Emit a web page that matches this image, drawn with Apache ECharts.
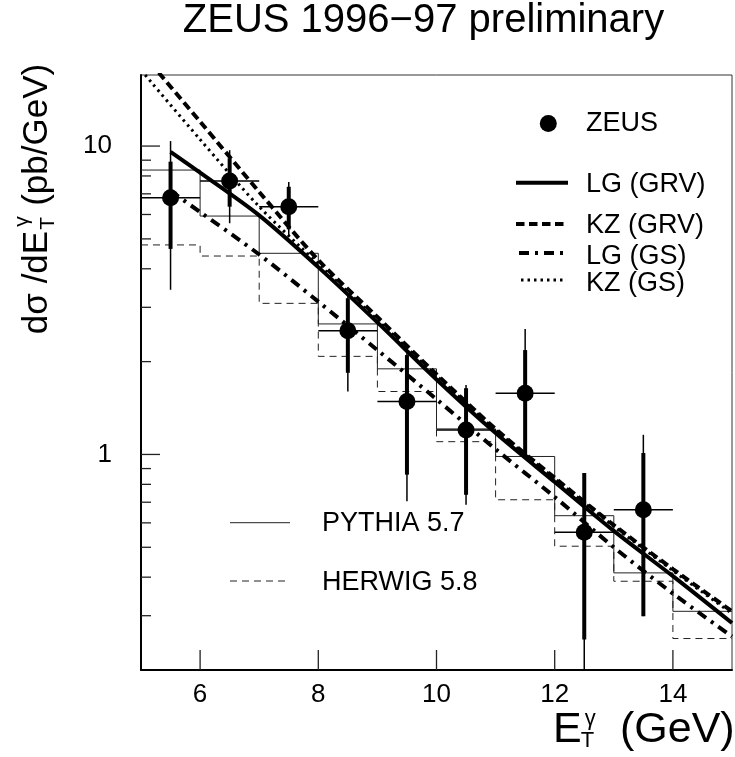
<!DOCTYPE html>
<html><head><meta charset="utf-8">
<script src="https://cdn.jsdelivr.net/npm/echarts@6/dist/echarts.min.js"></script>
<style>html,body{margin:0;padding:0;background:#fff}#c{width:735px;height:757px}</style>
</head><body><div id="c"></div>
<script>
// ---- data ----
const binEdges = [5, 6, 7, 8, 9, 10, 11, 12, 13, 14, 15];
const pythia = [8.36, 5.93, 4.49, 2.65, 1.895, 1.21, 0.985, 0.633, 0.413, 0.310];
const herwig = [4.78, 4.40, 3.09, 2.08, 1.60, 1.10, 0.713, 0.504, 0.388, 0.253];

const zeusX = [5.5, 6.5, 7.5, 8.5, 9.5, 10.5, 11.5, 12.5, 13.5];
const zeusY = [6.80, 7.70, 6.36, 2.52, 1.485, 1.20, 1.58, 0.559, 0.662];
const zeusXErr = [0.5, 0.5, 0.5, 0.5, 0.5, 0.5, 0.5, 0.5, 0.5];
const statLo = [4.64, 6.36, 5.37, 1.84, 0.86, 0.74, 0.985, 0.251, 0.299];
const statHi = [8.90, 9.13, 7.38, 3.21, 2.10, 1.64, 2.18, 0.87, 1.01];
const totLo = [3.42, 5.62, 5.08, 1.60, 0.705, 0.687, 0.97, 0.10, 0.299];
const totHi = [10.38, 9.70, 7.64, 3.30, 2.15, 1.68, 2.55, 0.87, 1.158];

const lgGrvX = [5.5, 6, 7, 8, 9, 10, 11, 12, 13, 14, 15];
const lgGrvY = [9.58, 8.20, 5.96, 4.05, 2.68, 1.75, 1.173, 0.814, 0.565, 0.403, 0.284];
const kzGrvX = [5.3, 6, 7, 8, 9, 10, 11, 12, 13, 14, 15];
const kzGrvY = [17.3, 12.0, 7.1, 4.27, 2.79, 1.82, 1.21, 0.84, 0.59, 0.425, 0.31];
const lgGsX = [5.5, 6, 7, 8, 9, 10, 11, 12, 13, 14, 15];
const lgGsY = [7.15, 6.11, 4.45, 3.13, 2.18, 1.51, 1.04, 0.728, 0.50, 0.354, 0.257];
const kzGsX = [5.07, 6, 7, 8, 9, 10, 11, 12, 13, 14, 15];
const kzGsY = [17.0, 10.5, 6.36, 4.15, 2.73, 1.80, 1.20, 0.835, 0.585, 0.42, 0.305];

const xTickVals = [6, 8, 10, 12, 14];
const yTickVals = [0.3, 0.4, 0.5, 0.6, 0.7, 0.8, 0.9, 1, 2, 3, 4, 5, 6, 7, 8, 9, 10];
const yMajorTicks = [1, 10];
const yLabelVals = [1, 10];

const titleText = 'ZEUS 1996\u221297 preliminary';
const curveNames = ['LG (GRV)', 'KZ (GRV)', 'LG (GS)', 'KZ (GS)'];
const mcNames = ['PYTHIA 5.7', 'HERWIG 5.8'];
const dataName = 'ZEUS';

// ---- layout / style ----
const X_MIN = 5, X_MAX = 15, Y_MIN = 0.2, Y_MAX = 17;
const FONT = '"Liberation Sans", Arial, Helvetica, sans-serif';
const DASH = [8.5, 4.5], DASHDOT = [10, 6, 3, 6], DOT = [2.5, 4], HDASH = [7, 5];

const mctx = document.createElement('canvas').getContext('2d');
function tw(t, fs) { mctx.font = fs + 'px ' + FONT; return mctx.measureText(t).width; }
function txt(t, x, y, fs, align) {
  return { type: 'text', x: x, y: y, silent: true,
    style: { text: t, font: fs + 'px ' + FONT, fill: '#000', align: align || 'left', verticalAlign: 'middle' } };
}
function btxt(t, x, base, fs) { return txt(t, x, base - 0.35 * fs, fs); }

function stepData(vals) { return binEdges.map((e, i) => [e, vals[Math.min(i, vals.length - 1)]]); }
function pairs(xs, ys) { return xs.map((x, i) => [x, ys[i]]); }

function curveSeries(name, xs, ys, width, type) {
  return { name: name, type: 'line', data: pairs(xs, ys), symbol: 'none', smooth: 0.3, z: 3,
    lineStyle: { color: '#000', width: width, type: type, cap: 'butt' }, silent: true };
}
function histSeries(name, vals, type) {
  return { name: name, type: 'line', data: stepData(vals), step: 'end', symbol: 'none', z: 2,
    lineStyle: { color: '#222', width: 1, type: type }, silent: true };
}

// y-axis title (rotated)
const YF = 35, YS = 21;
const wA = tw('d\u03c3 /dE', YF), wB = tw('(pb/GeV)', YF);
const yTitleLen = wA + 25 + wB;
const yTitleGroup = {
  type: 'group', x: 50, y: 199 + yTitleLen / 2, rotation: Math.PI / 2, silent: true,
  children: [
    btxt('d\u03c3 /dE', 0, 0, YF),
    btxt('T', wA + 1, 6, YS),
    btxt('\u03b3', wA + 4, -20, YS),
    btxt('(pb/GeV)', wA + 25, 0, YF)
  ]
};
// x-axis title
const XF = 43, XS = 22;
const wE = tw('E', XF);
const xTitle = [
  btxt('E', 553, 745, XF),
  btxt('T', 553 + wE - 1, 749, XS),
  btxt('\u03b3', 553 + wE + 3, 727, XS),
  btxt('(GeV)', 620, 745, XF)
];

const LF = 27;
const legendGraphics = [
  { type: 'circle', shape: { cx: 548.3, cy: 123.5, r: 8.5 }, style: { fill: '#000' }, silent: true },
  txt(dataName, 586, 124, LF),
  { type: 'line', shape: { x1: 516, y1: 182.7, x2: 568, y2: 182.7 }, style: { stroke: '#000', lineWidth: 4 }, silent: true },
  txt(curveNames[0], 586, 184.5, LF),
  { type: 'line', shape: { x1: 516, y1: 224, x2: 568, y2: 224 }, style: { stroke: '#000', lineWidth: 4, lineDash: DASH }, silent: true },
  txt(curveNames[1], 586, 226, LF),
  { type: 'line', shape: { x1: 519, y1: 253, x2: 568, y2: 253 }, style: { stroke: '#000', lineWidth: 4, lineDash: DASHDOT }, silent: true },
  txt(curveNames[2], 586, 256.3, LF),
  { type: 'line', shape: { x1: 521, y1: 280, x2: 566, y2: 280 }, style: { stroke: '#000', lineWidth: 3, lineDash: DOT }, silent: true },
  txt(curveNames[3], 586, 283.3, LF),
  { type: 'line', shape: { x1: 230, y1: 522.7, x2: 290, y2: 522.7 }, style: { stroke: '#222', lineWidth: 1 }, silent: true },
  txt(mcNames[0], 322, 523.3, LF),
  { type: 'line', shape: { x1: 230, y1: 581, x2: 290, y2: 581 }, style: { stroke: '#222', lineWidth: 1, lineDash: HDASH }, silent: true },
  txt(mcNames[1], 322, 582.5, LF)
];

const chart = echarts.init(document.getElementById('c'), null, { renderer: 'canvas' });
const option = {
  animation: false,
  backgroundColor: '#fff',
  textStyle: { fontFamily: FONT },
  grid: { left: 141, top: 75, width: 595, height: 595, show: true, borderColor: '#333', borderWidth: 1 },
  xAxis: {
    type: 'value', min: X_MIN, max: X_MAX, interval: 1,
    axisLine: { onZero: false, lineStyle: { color: '#000', width: 2 } },
    axisTick: { show: false }, splitLine: { show: false },
    axisLabel: { fontSize: 26, color: '#000', fontFamily: FONT, margin: 12,
      formatter: v => xTickVals.indexOf(Math.round(v)) >= 0 && Math.abs(v - Math.round(v)) < 1e-9 ? String(Math.round(v)) : '' }
  },
  yAxis: {
    type: 'log', logBase: 10, min: Y_MIN, max: Y_MAX,
    axisLine: { onZero: false, lineStyle: { color: '#000', width: 2 } },
    axisTick: { show: false }, minorTick: { show: false }, splitLine: { show: false },
    axisLabel: { fontSize: 26, color: '#000', fontFamily: FONT, margin: 29,
      formatter: v => { for (const L of yLabelVals) if (Math.abs(v - L) < 1e-6 * L) return String(L); return ''; } }
  },
  series: [
    histSeries(mcNames[0], pythia, 'solid'),
    histSeries(mcNames[1], herwig, HDASH),
    curveSeries(curveNames[0], lgGrvX, lgGrvY, 4, 'solid'),
    curveSeries(curveNames[1], kzGrvX, kzGrvY, 4, DASH),
    curveSeries(curveNames[2], lgGsX, lgGsY, 4, DASHDOT),
    curveSeries(curveNames[3], kzGsX, kzGsY, 3, DOT),
    {
      name: dataName + ' errors', type: 'custom', clip: true, z: 4, silent: true,
      data: zeusX.map((x, i) => [x, zeusY[i], statLo[i], statHi[i], totLo[i], totHi[i], zeusXErr[i]]),
      renderItem: function (params, api) {
        const x = api.value(0), y = api.value(1), dx = api.value(6);
        const l = api.coord([x - dx, y]), r = api.coord([x + dx, y]);
        const sl = api.coord([x, api.value(2)]), sh = api.coord([x, api.value(3)]);
        const tl = api.coord([x, api.value(4)]), th = api.coord([x, api.value(5)]);
        return { type: 'group', children: [
          { type: 'line', shape: { x1: tl[0], y1: tl[1], x2: th[0], y2: th[1] }, style: { stroke: '#000', lineWidth: 1.5 } },
          { type: 'line', shape: { x1: sl[0], y1: sl[1], x2: sh[0], y2: sh[1] }, style: { stroke: '#000', lineWidth: 4 } },
          { type: 'line', shape: { x1: l[0], y1: l[1], x2: r[0], y2: r[1] }, style: { stroke: '#000', lineWidth: 1.5 } }
        ] };
      }
    },
    {
      name: dataName, type: 'scatter', data: pairs(zeusX, zeusY), symbol: 'circle', symbolSize: 17, z: 5,
      itemStyle: { color: '#000', opacity: 1 }, silent: true
    },
    {
      name: 'yticks', type: 'custom', clip: false, z: 6, silent: true,
      data: yTickVals.map(v => [X_MIN, v]),
      renderItem: function (params, api) {
        const v = api.value(1);
        const p = api.coord([api.value(0), v]);
        const major = yMajorTicks.some(m => Math.abs(m - v) < 1e-9);
        const len = major ? 19 : 10;
        return { type: 'line', shape: { x1: p[0], y1: p[1], x2: p[0] + len, y2: p[1] }, style: { stroke: '#222', lineWidth: 1.3 } };
      }
    },
    {
      name: 'xticks', type: 'custom', clip: false, z: 6, silent: true,
      data: xTickVals.map(v => [v, Y_MIN]),
      renderItem: function (params, api) {
        const p = api.coord([api.value(0), api.value(1)]);
        return { type: 'line', shape: { x1: p[0], y1: p[1], x2: p[0], y2: p[1] - 20 }, style: { stroke: '#222', lineWidth: 1.3 } };
      }
    }
  ],
  graphic: [
    txt(titleText, 423.5, 21, 40, 'center'),
    yTitleGroup
  ].concat(xTitle, legendGraphics)
};
chart.setOption(option);
</script>
</body></html>
